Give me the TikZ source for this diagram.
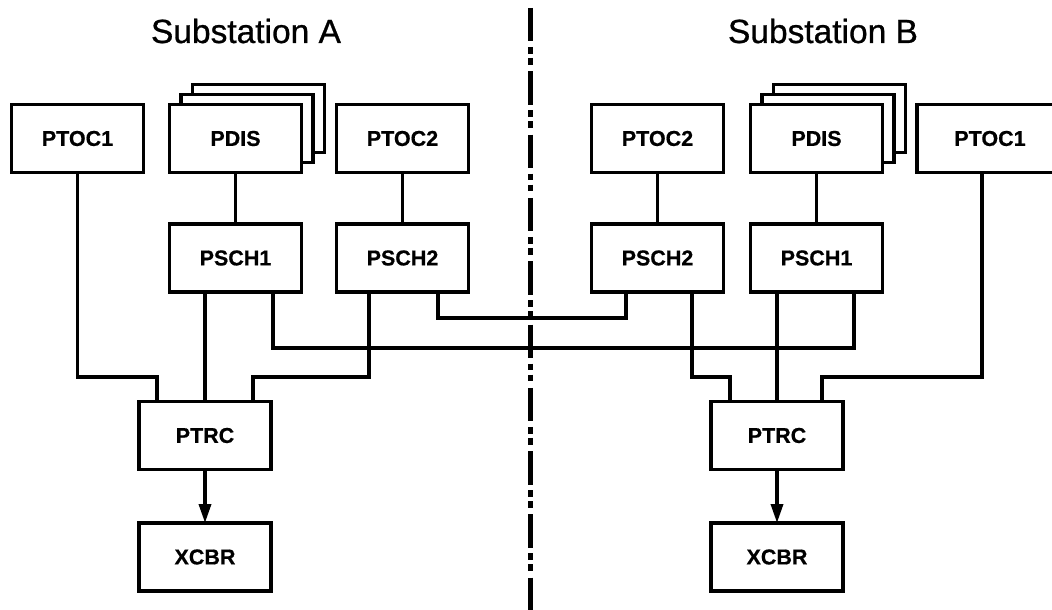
\documentclass[tikz,border=0pt]{standalone}
\usepackage{fontspec}
\setmainfont{Liberation Sans}
\newfontfamily\titlefont{Liberation Sans}[FakeBold=0.8]
\newfontfamily\labelfont{Liberation Sans Bold}[FakeBold=0.6]
\usetikzlibrary{arrows.meta,backgrounds}
\begin{document}
\begin{tikzpicture}[x=1pt,y=-1pt,
  lw/.style={line width=3.5pt},
  box/.style={draw,lw,fill=white,minimum width=132pt,minimum height=68pt,inner sep=0pt,outer sep=0pt,
    font=\labelfont\fontsize{21.5}{25}\selectfont},
  backbox/.style={draw,lw,fill=white},
  conn/.style={draw,lw},
  title/.style={anchor=base,inner sep=0pt,font=\titlefont\fontsize{33.5}{40}\selectfont},
  arr/.style={draw,lw,-{Triangle[length=19pt,width=12pt]}}]
\useasboundingbox (0,0) rectangle (1052,610);

% titles
\node[title] (tA) at (246,43) {Substation A};
\node[title] (tB) at (823,43) {Substation B};

% separator
\draw[line width=5pt,dash pattern=on 33.4pt off 5.6pt on 6.7pt off 4.3pt on 6.7pt off 6.6pt] (530,8) -- (530,612);

% Substation A
\node[box] (APTOC1) at (77.5,138.5) {PTOC1};
\node[box] (APDIS) at (235.5,138.5) {PDIS};
\node[box] (APTOC2) at (402.5,138.5) {PTOC2};
\node[box] (APSCH1) at (235.5,258) {PSCH1};
\node[box] (APSCH2) at (402.5,258) {PSCH2};
\node[box] (APTRC) at (205,435.5) {PTRC};
\node[box] (AXCBR) at (205,557) {XCBR};

% Substation B
\node[box] (BPTOC2) at (657.5,138.5) {PTOC2};
\node[box] (BPDIS) at (816.5,138.5) {PDIS};
\node[box,minimum width=146pt] (BPTOC1) at (990,138.5) {PTOC1\hspace{14pt}};
\node[box] (BPSCH2) at (657.5,258) {PSCH2};
\node[box] (BPSCH1) at (816.5,258) {PSCH1};
\node[box] (BPTRC) at (777,435.5) {PTRC};
\node[box] (BXCBR) at (777,557) {XCBR};

% stacked PDIS copies
\begin{scope}[on background layer]
  \draw[backbox] ([shift={(23,-20)}]APDIS.south west) rectangle ([shift={(23,-20)}]APDIS.north east);
  \draw[backbox] ([shift={(11.5,-10)}]APDIS.south west) rectangle ([shift={(11.5,-10)}]APDIS.north east);
  \draw[backbox] ([shift={(23,-20)}]BPDIS.south west) rectangle ([shift={(23,-20)}]BPDIS.north east);
  \draw[backbox] ([shift={(11.5,-10)}]BPDIS.south west) rectangle ([shift={(11.5,-10)}]BPDIS.north east);
\end{scope}

% connectors A
\draw[conn] (APDIS.south) -- (APSCH1.north);
\draw[conn] (APTOC2.south) -- (APSCH2.north);
\draw[conn] (APTOC1.south) |- ([xshift=-48pt,yshift=24.5pt]APTRC.north) -- ([xshift=-48pt]APTRC.north);
\draw[conn] ([xshift=-30.5pt]APSCH1.south) -- (APTRC.north);
\draw[conn] ([xshift=-33.5pt]APSCH2.south) |- ([xshift=48pt,yshift=24.5pt]APTRC.north) -- ([xshift=48pt]APTRC.north);

% cross connectors
\draw[conn] ([xshift=37.5pt]APSCH1.south) |- ([xshift=37.5pt,yshift=-56pt]BPSCH1.south) -- ([xshift=37.5pt]BPSCH1.south);
\draw[conn] ([xshift=35.5pt]APSCH2.south) |- ([xshift=-31.5pt,yshift=-26pt]BPSCH2.south) -- ([xshift=-31.5pt]BPSCH2.south);

% connectors B
\draw[conn] (BPTOC2.south) -- (BPSCH2.north);
\draw[conn] (BPDIS.south) -- (BPSCH1.north);
\draw[conn] ([xshift=34.5pt]BPSCH2.south) |- ([xshift=-47pt,yshift=24.5pt]BPTRC.north) -- ([xshift=-47pt]BPTRC.north);
\draw[conn] ([xshift=-39.5pt]BPSCH1.south) -- (BPTRC.north);
\draw[conn] ([xshift=-8pt]BPTOC1.south) |- ([xshift=45pt,yshift=24.5pt]BPTRC.north) -- ([xshift=45pt]BPTRC.north);

% arrows
\draw[arr] (APTRC.south) -- (AXCBR.north);
\draw[arr] (BPTRC.south) -- (BXCBR.north);
\end{tikzpicture}
\end{document}
